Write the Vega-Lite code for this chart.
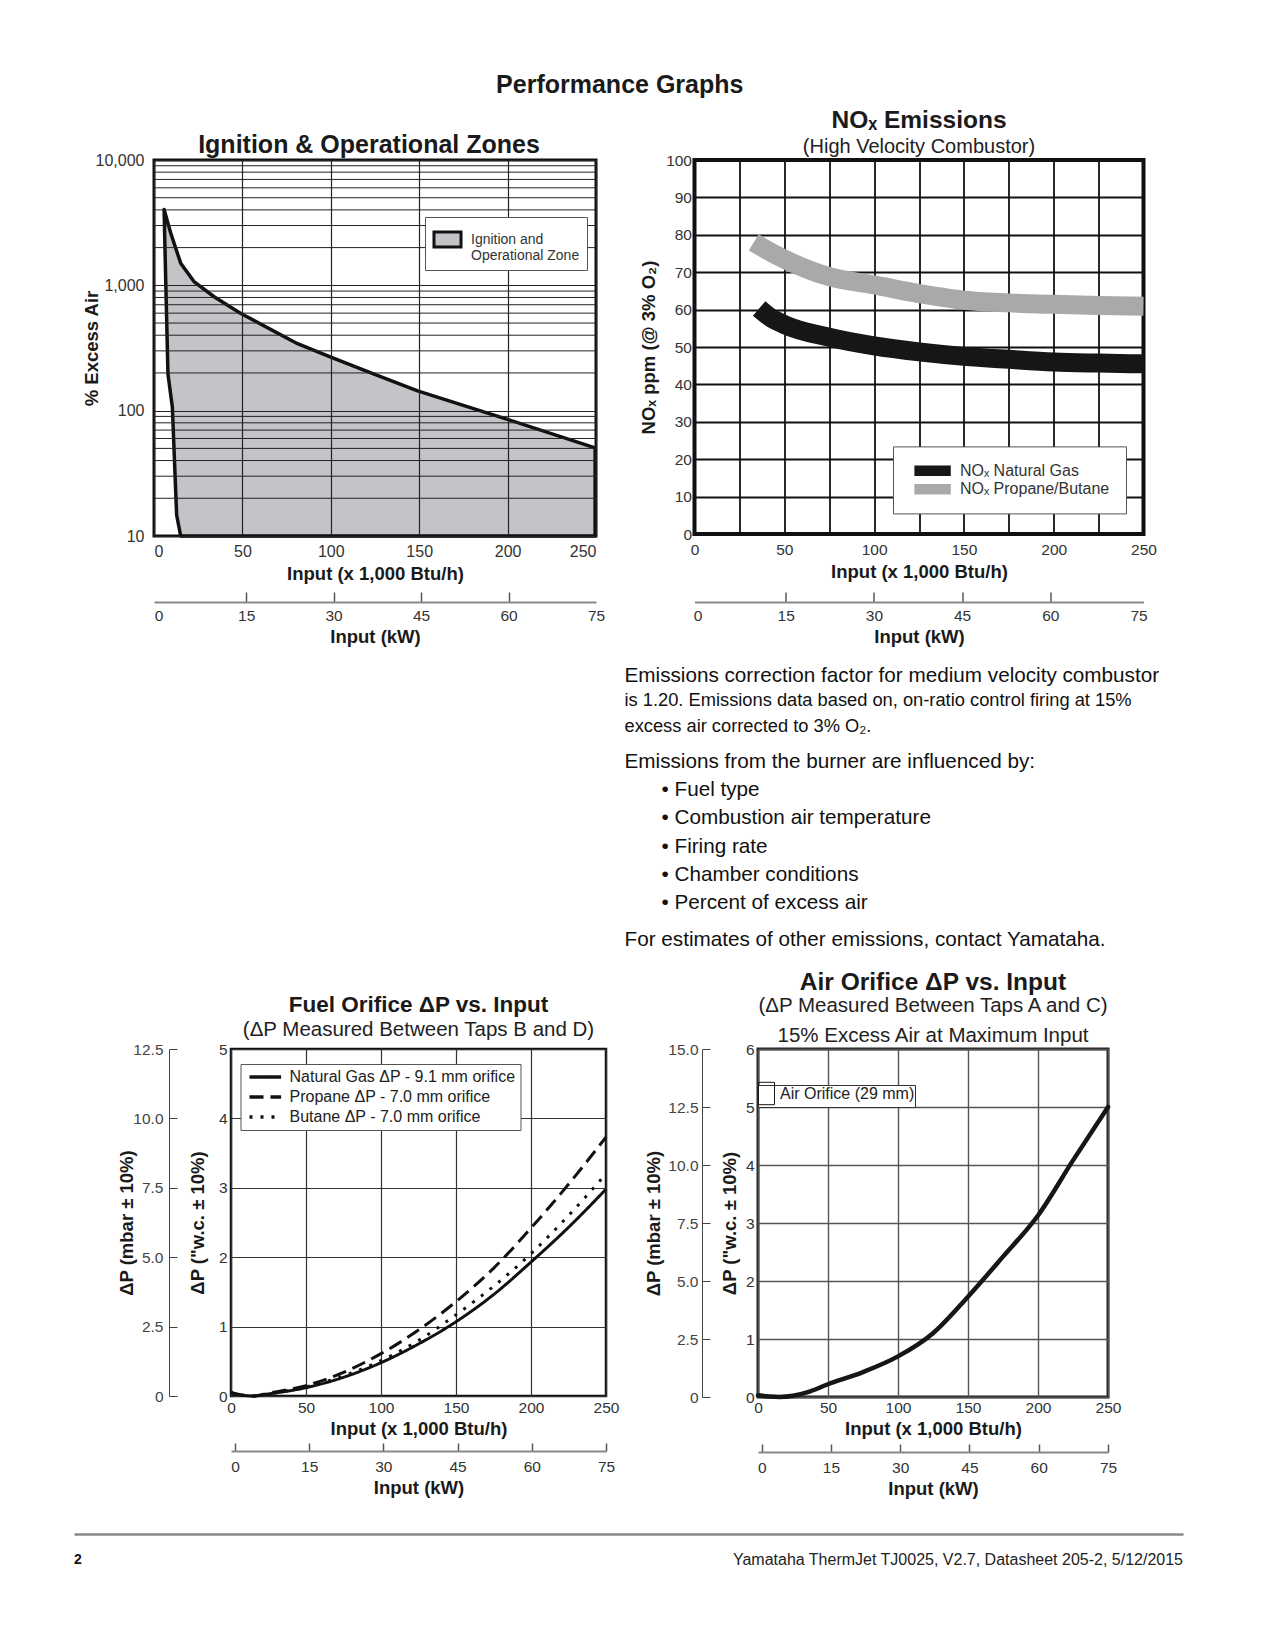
{
  "$schema": "https://vega.github.io/schema/vega-lite/v6.json",
  "background": "white",
  "padding": {"left": 10, "top": 72, "right": 10, "bottom": 10},
  "config": {
    "font": "Liberation Sans",
    "view": {"stroke": null},
    "axis": {"labelFont": "Liberation Sans", "labelFontSize": 15.5, "labelColor": "#333", "titleFont": "Liberation Sans", "titleFontSize": 18.5, "titleFontWeight": "bold", "titleColor": "#1a1a1a", "labelFlush": false, "labelOverlap": false},
    "legend": {"labelFont": "Liberation Sans"},
    "title": {"font": "Liberation Sans", "color": "#1a1a1a", "subtitleFont": "Liberation Sans", "subtitleColor": "#222"}
  },
  "title": {"text": "Performance Graphs", "fontSize": 25, "fontWeight": "bold", "anchor": "middle", "offset": 8.5, "dx": 23},
  "spacing": 0,
  "resolve": {"scale": {"fill": "independent", "stroke": "independent", "strokeDash": "independent", "size": "independent"}, "legend": {"fill": "independent", "stroke": "independent", "strokeDash": "independent", "size": "independent"}},
  "vconcat": [
    {
      "spacing": 0,
      "resolve": {"scale": {"fill": "independent", "stroke": "independent", "strokeDash": "independent", "size": "independent"}, "legend": {"fill": "independent", "stroke": "independent", "strokeDash": "independent", "size": "independent"}},
      "hconcat": [
        {"width": 69.5, "height": 500, "data": {"values": []}, "mark": {"type": "point", "opacity": 0}},
        {
          "spacing": 29.5,
          "resolve": {"scale": {"fill": "independent", "stroke": "independent", "strokeDash": "independent", "size": "independent"}, "legend": {"fill": "independent", "stroke": "independent", "strokeDash": "independent", "size": "independent"}},
          "hconcat": [
            {
              "width": 442, "height": 376,
              "view": {"stroke": "#111", "strokeWidth": 3},
              "title": {"text": "Ignition & Operational Zones", "fontSize": 25, "fontWeight": "bold", "offset": -5.5, "dx": -6},
              "resolve": {"scale": {"x": "independent"}},
              "layer": [
                {
                  "data": {"values": [
                    {"i": 1, "input": 5.7, "air": 4036, "zone": "Ignition and Operational Zone"},
                    {"i": 2, "input": 9.4, "air": 2625, "zone": "Ignition and Operational Zone"},
                    {"i": 3, "input": 15.1, "air": 1503, "zone": "Ignition and Operational Zone"},
                    {"i": 4, "input": 22.6, "air": 1072, "zone": "Ignition and Operational Zone"},
                    {"i": 5, "input": 34, "air": 811, "zone": "Ignition and Operational Zone"},
                    {"i": 6, "input": 49.1, "air": 596, "zone": "Ignition and Operational Zone"},
                    {"i": 7, "input": 81.2, "air": 342, "zone": "Ignition and Operational Zone"},
                    {"i": 8, "input": 100, "air": 267, "zone": "Ignition and Operational Zone"},
                    {"i": 9, "input": 124.5, "air": 196, "zone": "Ignition and Operational Zone"},
                    {"i": 10, "input": 149.1, "air": 144, "zone": "Ignition and Operational Zone"},
                    {"i": 11, "input": 198.1, "air": 86.9, "zone": "Ignition and Operational Zone"},
                    {"i": 12, "input": 249.5, "air": 50.5, "zone": "Ignition and Operational Zone"},
                    {"i": 13, "input": 249.5, "air": 10, "zone": "Ignition and Operational Zone"},
                    {"i": 14, "input": 15.1, "air": 10, "zone": "Ignition and Operational Zone"},
                    {"i": 15, "input": 12.8, "air": 14.7, "zone": "Ignition and Operational Zone"},
                    {"i": 16, "input": 10.4, "air": 106, "zone": "Ignition and Operational Zone"},
                    {"i": 17, "input": 7.9, "air": 196, "zone": "Ignition and Operational Zone"},
                    {"i": 18, "input": 6.7, "air": 1000, "zone": "Ignition and Operational Zone"}
                  ]},
                  "mark": {"type": "line", "interpolate": "linear-closed", "stroke": "#111", "strokeWidth": 3.5, "strokeJoin": "round"},
                  "encoding": {
                    "x": {"field": "input", "type": "quantitative", "scale": {"domain": [0, 250]},
                      "axis": {"values": [0, 50, 100, 150, 200, 250], "grid": true, "gridColor": "#222", "gridWidth": 1.2, "domain": false, "ticks": false, "labelFlush": true, "labelPadding": 7, "labelFontSize": 16, "title": "Input (x 1,000 Btu/h)", "titlePadding": 5, "zindex": 1}},
                    "y": {"field": "air", "type": "quantitative", "scale": {"type": "log", "domain": [10, 10000]},
                      "axis": {"values": [10, 100, 1000, 10000], "format": ",", "grid": true, "gridColor": "#222", "gridWidth": 1.2, "domain": false, "ticks": false, "labelPadding": 10, "labelFontSize": 16, "title": "% Excess Air", "titlePadding": -6, "zindex": 1}},
                    "order": {"field": "i"},
                    "fill": {"field": "zone", "type": "nominal", "scale": {"range": ["#c3c4c8"]},
                      "legend": {"orient": "none", "legendX": 271, "legendY": 57, "title": null, "strokeColor": "#555", "fillColor": "white", "padding": 7, "symbolType": "M-1,-0.55H1V0.55H-1Z", "symbolSize": 730, "symbolStrokeColor": "#111", "symbolStrokeWidth": 3, "labelFontSize": 14, "labelColor": "#333", "labelExpr": "['Ignition and', 'Operational Zone']", "labelOffset": 8, "labelLimit": 0, "zindex": 2}}
                  }
                },
                {
                  "data": {"values": [
                    {"air": 20}, {"air": 30}, {"air": 40}, {"air": 50}, {"air": 60}, {"air": 70}, {"air": 80}, {"air": 90},
                    {"air": 200}, {"air": 300}, {"air": 400}, {"air": 500}, {"air": 600}, {"air": 700}, {"air": 800}, {"air": 900},
                    {"air": 2000}, {"air": 3000}, {"air": 4000}, {"air": 5000}, {"air": 6000}, {"air": 7000}, {"air": 8000}, {"air": 9000}
                  ]},
                  "mark": {"type": "rule", "stroke": "#222", "strokeWidth": 1},
                  "encoding": {"y": {"field": "air", "type": "quantitative", "scale": {"type": "log", "domain": [10, 10000]}}}
                },
                {
                  "data": {"values": [{"kw": 0}, {"kw": 75}]},
                  "mark": {"type": "point", "opacity": 0},
                  "encoding": {"x": {"field": "kw", "type": "quantitative", "scale": {"domain": [-0.8, 75]},
                    "axis": {"orient": "bottom", "offset": 66, "values": [0, 15, 30, 45, 60, 75], "tickSize": -10, "tickWidth": 1.5, "tickColor": {"condition": {"test": "datum.value == 0 || datum.value == 75", "value": "transparent"}, "value": "#555"}, "domainColor": "#888", "domainWidth": 1.8, "labelPadding": 16, "title": "Input (kW)", "titlePadding": 4, "grid": false}}}
                }
              ]
            },
            {
              "width": 449, "height": 374,
              "view": {"stroke": "#111", "strokeWidth": 4},
              "title": {"text": "NOₓ Emissions", "subtitle": "(High Velocity Combustor)", "fontSize": 24.5, "fontWeight": "bold", "subtitleFontSize": 20, "subtitlePadding": 3, "offset": -4.5},
              "resolve": {"scale": {"x": "independent"}},
              "layer": [
                {
                  "data": {"values": [
                    {"fuel": "NOₓ Propane/Butane", "input": 33, "nox": 78},
                    {"fuel": "NOₓ Propane/Butane", "input": 40, "nox": 76},
                    {"fuel": "NOₓ Propane/Butane", "input": 50, "nox": 73.5},
                    {"fuel": "NOₓ Propane/Butane", "input": 75, "nox": 68.8},
                    {"fuel": "NOₓ Propane/Butane", "input": 100, "nox": 66.6},
                    {"fuel": "NOₓ Propane/Butane", "input": 125, "nox": 64.3},
                    {"fuel": "NOₓ Propane/Butane", "input": 150, "nox": 62.5},
                    {"fuel": "NOₓ Propane/Butane", "input": 175, "nox": 61.8},
                    {"fuel": "NOₓ Propane/Butane", "input": 200, "nox": 61.4},
                    {"fuel": "NOₓ Propane/Butane", "input": 225, "nox": 61.1},
                    {"fuel": "NOₓ Propane/Butane", "input": 250, "nox": 60.9},
                    {"fuel": "NOₓ Natural Gas", "input": 36, "nox": 60.3},
                    {"fuel": "NOₓ Natural Gas", "input": 42, "nox": 58},
                    {"fuel": "NOₓ Natural Gas", "input": 50, "nox": 56},
                    {"fuel": "NOₓ Natural Gas", "input": 75, "nox": 52.6},
                    {"fuel": "NOₓ Natural Gas", "input": 100, "nox": 50.3},
                    {"fuel": "NOₓ Natural Gas", "input": 125, "nox": 48.7},
                    {"fuel": "NOₓ Natural Gas", "input": 150, "nox": 47.5},
                    {"fuel": "NOₓ Natural Gas", "input": 175, "nox": 46.7},
                    {"fuel": "NOₓ Natural Gas", "input": 200, "nox": 46},
                    {"fuel": "NOₓ Natural Gas", "input": 225, "nox": 45.7},
                    {"fuel": "NOₓ Natural Gas", "input": 250, "nox": 45.5}
                  ]},
                  "mark": {"type": "line", "strokeWidth": 19, "strokeCap": "butt", "interpolate": "monotone"},
                  "encoding": {
                    "x": {"field": "input", "type": "quantitative", "scale": {"domain": [0, 250]},
                      "axis": {"values": [0, 25, 50, 75, 100, 125, 150, 175, 200, 225, 250], "labelExpr": "datum.value % 50 === 0 ? datum.label : ''", "grid": true, "gridColor": "#111", "gridWidth": 1.8, "domain": false, "ticks": false, "labelPadding": 8, "title": "Input (x 1,000 Btu/h)", "titlePadding": 5}},
                    "y": {"field": "nox", "type": "quantitative", "scale": {"domain": [0, 100]},
                      "axis": {"values": [0, 10, 20, 30, 40, 50, 60, 70, 80, 90, 100], "grid": true, "gridColor": "#111", "gridWidth": 1.8, "domain": false, "ticks": false, "labelPadding": 3, "title": "NOₓ ppm (@ 3% O₂)", "titlePadding": 7.5}},
                    "stroke": {"field": "fuel", "type": "nominal", "scale": {"domain": ["NOₓ Natural Gas", "NOₓ Propane/Butane"], "range": ["#161616", "#a8a9ab"]},
                      "legend": {"orient": "none", "legendX": 198.5, "legendY": 286.4, "title": null, "strokeColor": "#555", "fillColor": "white", "padding": 15.9, "symbolType": "M-0.4,-0.6H4.45M-0.4,-0.4H4.45M-0.4,-0.2H4.45M-0.4,0H4.45M-0.4,0.2H4.45M-0.4,0.4H4.45M-0.4,0.6H4.45", "symbolSize": 225, "symbolStrokeWidth": 1.6, "symbolFillColor": "transparent", "labelFontSize": 16, "labelColor": "#333", "labelOffset": 34, "rowPadding": 1.5, "zindex": 2}}
                  }
                },
                {
                  "data": {"values": [{"kw": 0}, {"kw": 75}]},
                  "mark": {"type": "point", "opacity": 0},
                  "encoding": {"x": {"field": "kw", "type": "quantitative", "scale": {"domain": [-0.51, 75.85]},
                    "axis": {"orient": "bottom", "offset": 68, "values": [0, 15, 30, 45, 60, 75], "tickSize": -10, "tickWidth": 1.5, "tickColor": {"condition": {"test": "datum.value == 0 || datum.value == 75", "value": "transparent"}, "value": "#555"}, "domainColor": "#888", "domainWidth": 1.8, "labelPadding": 16, "title": "Input (kW)", "titlePadding": 4, "grid": false}}}
                }
              ]
            }
          ]
        }
      ]
    },
    {
      "spacing": 0,
      "resolve": {"scale": {"fill": "independent", "stroke": "independent", "strokeDash": "independent", "size": "independent"}, "legend": {"fill": "independent", "stroke": "independent", "strokeDash": "independent", "size": "independent"}},
      "hconcat": [
        {"width": 614, "height": 308, "data": {"values": []}, "mark": {"type": "point", "opacity": 0}},
        {
          "spacing": 4.8,
          "vconcat": [
            {
              "width": 1, "height": 82.6,
              "data": {"values": [
                {"line": 1, "kind": "lead", "text": "Emissions correction factor for medium velocity combustor"},
                {"line": 2, "kind": "detail", "text": "is 1.20. Emissions data based on, on-ratio control firing at 15%"},
                {"line": 3, "kind": "detail", "text": "excess air corrected to 3% O₂."}
              ]},
              "encoding": {
                "y": {"field": "line", "type": "ordinal", "scale": {"type": "point", "padding": 0.62, "domain": [1, 2, 3]}, "axis": null},
                "text": {"field": "text"}
              },
              "layer": [
                {"transform": [{"filter": "datum.kind === 'lead'"}], "mark": {"type": "text", "align": "left", "baseline": "middle", "color": "#111", "fontSize": 20.7}},
                {"transform": [{"filter": "datum.kind === 'detail'"}], "mark": {"type": "text", "align": "left", "baseline": "middle", "color": "#111", "fontSize": 18.3}}
              ]
            },
            {
              "width": 1, "height": 169.2,
              "data": {"values": [
                {"line": 4, "kind": "intro", "text": "Emissions from the burner are influenced by:"},
                {"line": 5, "kind": "bullet", "text": "• Fuel type"},
                {"line": 6, "kind": "bullet", "text": "• Combustion air temperature"},
                {"line": 7, "kind": "bullet", "text": "• Firing rate"},
                {"line": 8, "kind": "bullet", "text": "• Chamber conditions"},
                {"line": 9, "kind": "bullet", "text": "• Percent of excess air"}
              ]},
              "encoding": {
                "y": {"field": "line", "type": "ordinal", "scale": {"type": "point", "padding": 0.5, "domain": [4, 5, 6, 7, 8, 9]}, "axis": null},
                "text": {"field": "text"}
              },
              "layer": [
                {"transform": [{"filter": "datum.kind === 'intro'"}], "mark": {"type": "text", "align": "left", "baseline": "middle", "color": "#111", "fontSize": 20.7}},
                {"transform": [{"filter": "datum.kind === 'bullet'"}], "mark": {"type": "text", "align": "left", "baseline": "middle", "color": "#111", "fontSize": 20.7, "dx": 37}}
              ]
            },
            {
              "width": 1, "height": 34.2,
              "data": {"values": [
                {"line": 10, "text": "For estimates of other emissions, contact Yamataha."}
              ]},
              "mark": {"type": "text", "align": "left", "baseline": "middle", "color": "#111", "fontSize": 20.7},
              "encoding": {
                "y": {"field": "line", "type": "ordinal", "scale": {"type": "point", "padding": 0.5}, "axis": null},
                "text": {"field": "text"}
              }
            }
          ]
        }
      ]
    },
    {
      "spacing": 0,
      "resolve": {"scale": {"fill": "independent", "stroke": "independent", "strokeDash": "independent", "size": "independent"}, "legend": {"fill": "independent", "stroke": "independent", "strokeDash": "independent", "size": "independent"}},
      "hconcat": [
        {"width": 106, "height": 484.5, "data": {"values": []}, "mark": {"type": "point", "opacity": 0}},
        {
          "spacing": 22,
          "resolve": {"scale": {"fill": "independent", "stroke": "independent", "strokeDash": "independent", "size": "independent"}, "legend": {"fill": "independent", "stroke": "independent", "strokeDash": "independent", "size": "independent"}},
          "hconcat": [
            {
              "width": 375, "height": 347,
              "view": {"stroke": "#111", "strokeWidth": 2.5},
              "title": {"text": "Fuel Orifice ΔP vs. Input", "subtitle": "(ΔP Measured Between Taps B and D)", "fontSize": 22.5, "fontWeight": "bold", "subtitleFontSize": 20.5, "subtitlePadding": 3, "offset": 2},
              "resolve": {"scale": {"x": "independent", "y": "independent"}},
              "layer": [
                {
                  "data": {"values": [
                    {"fuel": "Natural Gas ΔP - 9.1 mm orifice", "input": 0, "dp": 0.05},
                    {"fuel": "Natural Gas ΔP - 9.1 mm orifice", "input": 8, "dp": 0.01},
                    {"fuel": "Natural Gas ΔP - 9.1 mm orifice", "input": 15, "dp": 0},
                    {"fuel": "Natural Gas ΔP - 9.1 mm orifice", "input": 25, "dp": 0.03},
                    {"fuel": "Natural Gas ΔP - 9.1 mm orifice", "input": 50, "dp": 0.12},
                    {"fuel": "Natural Gas ΔP - 9.1 mm orifice", "input": 75, "dp": 0.27},
                    {"fuel": "Natural Gas ΔP - 9.1 mm orifice", "input": 100, "dp": 0.48},
                    {"fuel": "Natural Gas ΔP - 9.1 mm orifice", "input": 125, "dp": 0.75},
                    {"fuel": "Natural Gas ΔP - 9.1 mm orifice", "input": 150, "dp": 1.07},
                    {"fuel": "Natural Gas ΔP - 9.1 mm orifice", "input": 175, "dp": 1.46},
                    {"fuel": "Natural Gas ΔP - 9.1 mm orifice", "input": 200, "dp": 1.93},
                    {"fuel": "Natural Gas ΔP - 9.1 mm orifice", "input": 225, "dp": 2.43},
                    {"fuel": "Natural Gas ΔP - 9.1 mm orifice", "input": 250, "dp": 2.98},
                    {"fuel": "Propane ΔP - 7.0 mm orifice", "input": 0, "dp": 0.05},
                    {"fuel": "Propane ΔP - 7.0 mm orifice", "input": 8, "dp": 0.01},
                    {"fuel": "Propane ΔP - 7.0 mm orifice", "input": 15, "dp": 0},
                    {"fuel": "Propane ΔP - 7.0 mm orifice", "input": 25, "dp": 0.04},
                    {"fuel": "Propane ΔP - 7.0 mm orifice", "input": 50, "dp": 0.15},
                    {"fuel": "Propane ΔP - 7.0 mm orifice", "input": 75, "dp": 0.34},
                    {"fuel": "Propane ΔP - 7.0 mm orifice", "input": 100, "dp": 0.61},
                    {"fuel": "Propane ΔP - 7.0 mm orifice", "input": 125, "dp": 0.95},
                    {"fuel": "Propane ΔP - 7.0 mm orifice", "input": 150, "dp": 1.36},
                    {"fuel": "Propane ΔP - 7.0 mm orifice", "input": 175, "dp": 1.84},
                    {"fuel": "Propane ΔP - 7.0 mm orifice", "input": 200, "dp": 2.42},
                    {"fuel": "Propane ΔP - 7.0 mm orifice", "input": 225, "dp": 3.05},
                    {"fuel": "Propane ΔP - 7.0 mm orifice", "input": 250, "dp": 3.73},
                    {"fuel": "Butane ΔP - 7.0 mm orifice", "input": 0, "dp": 0.05},
                    {"fuel": "Butane ΔP - 7.0 mm orifice", "input": 8, "dp": 0.01},
                    {"fuel": "Butane ΔP - 7.0 mm orifice", "input": 15, "dp": 0},
                    {"fuel": "Butane ΔP - 7.0 mm orifice", "input": 25, "dp": 0.03},
                    {"fuel": "Butane ΔP - 7.0 mm orifice", "input": 50, "dp": 0.13},
                    {"fuel": "Butane ΔP - 7.0 mm orifice", "input": 75, "dp": 0.29},
                    {"fuel": "Butane ΔP - 7.0 mm orifice", "input": 100, "dp": 0.51},
                    {"fuel": "Butane ΔP - 7.0 mm orifice", "input": 125, "dp": 0.8},
                    {"fuel": "Butane ΔP - 7.0 mm orifice", "input": 150, "dp": 1.17},
                    {"fuel": "Butane ΔP - 7.0 mm orifice", "input": 175, "dp": 1.58},
                    {"fuel": "Butane ΔP - 7.0 mm orifice", "input": 200, "dp": 2.05},
                    {"fuel": "Butane ΔP - 7.0 mm orifice", "input": 225, "dp": 2.6},
                    {"fuel": "Butane ΔP - 7.0 mm orifice", "input": 250, "dp": 3.2}
                  ]},
                  "mark": {"type": "line", "strokeWidth": 3, "stroke": "#111", "strokeCap": "butt", "interpolate": "monotone"},
                  "encoding": {
                    "x": {"field": "input", "type": "quantitative", "scale": {"domain": [0, 250]},
                      "axis": {"values": [0, 50, 100, 150, 200, 250], "grid": true, "gridColor": "#333", "gridWidth": 1.2, "domain": false, "ticks": false, "labelPadding": 4, "title": "Input (x 1,000 Btu/h)", "titlePadding": 4}},
                    "y": {"field": "dp", "type": "quantitative", "scale": {"domain": [0, 5]},
                      "axis": {"orient": "left", "values": [0, 1, 2, 3, 4, 5], "grid": true, "gridColor": "#333", "gridWidth": 1.2, "domain": false, "ticks": false, "labelPadding": 4, "title": "ΔP (\"w.c. ± 10%)", "titlePadding": 11}},
                    "strokeDash": {"field": "fuel", "type": "nominal", "scale": {"domain": ["Natural Gas ΔP - 9.1 mm orifice", "Propane ΔP - 7.0 mm orifice", "Butane ΔP - 7.0 mm orifice"], "range": [[1, 0], [14, 7], [3, 8]]},
                      "legend": {"orient": "none", "legendX": 9.5, "legendY": 15, "title": null, "strokeColor": "#555", "fillColor": "white", "padding": 5, "symbolType": "M-0.667,0H4.6", "symbolSize": 144, "symbolStrokeWidth": 3.5, "symbolStrokeColor": "#111", "symbolFillColor": "transparent", "labelFontSize": 16, "labelColor": "#222", "labelOffset": 28, "rowPadding": 4, "labelLimit": 0, "zindex": 2}}
                  }
                },
                {
                  "data": {"values": [{"mbar": 0}, {"mbar": 12.5}]},
                  "mark": {"type": "point", "opacity": 0},
                  "encoding": {"y": {"field": "mbar", "type": "quantitative", "scale": {"domain": [0, 12.5]},
                    "axis": {"orient": "left", "offset": 62, "values": [0, 2.5, 5, 7.5, 10, 12.5], "labelExpr": "datum.value === 0 ? '0' : format(datum.value, '.1f')", "tickSize": -8, "tickColor": "#444", "domainColor": "#444", "labelPadding": 14, "labelColor": "#444", "title": "ΔP (mbar ± 10%)", "titlePadding": -4, "grid": false}}}
                },
                {
                  "data": {"values": [{"kw": 0}, {"kw": 75}]},
                  "mark": {"type": "point", "opacity": 0},
                  "encoding": {"x": {"field": "kw", "type": "quantitative", "scale": {"domain": [-0.8, 75]},
                    "axis": {"orient": "bottom", "offset": 55, "values": [0, 15, 30, 45, 60, 75], "tickSize": -8, "tickWidth": 1.5, "tickColor": "#555", "domainColor": "#888", "domainWidth": 1.8, "labelPadding": 16, "title": "Input (kW)", "titlePadding": 4, "grid": false}}}
                }
              ]
            },
            {
              "width": 350, "height": 348,
              "view": {"stroke": "#222", "strokeWidth": 3},
              "title": {"text": "Air Orifice ΔP vs. Input", "subtitle": ["(ΔP Measured Between Taps A and C)", "15% Excess Air at Maximum Input"], "fontSize": 24.5, "fontWeight": "bold", "subtitleFontSize": 20.5, "subtitleLineHeight": 30, "subtitlePadding": 0, "offset": -5},
              "resolve": {"scale": {"x": "independent", "y": "independent"}},
              "layer": [
                {
                  "data": {"values": [
                    {"orifice": "Air Orifice (29 mm)", "input": 0, "dp": 0.03},
                    {"orifice": "Air Orifice (29 mm)", "input": 8, "dp": 0.01},
                    {"orifice": "Air Orifice (29 mm)", "input": 15, "dp": 0},
                    {"orifice": "Air Orifice (29 mm)", "input": 25, "dp": 0.02},
                    {"orifice": "Air Orifice (29 mm)", "input": 35, "dp": 0.08},
                    {"orifice": "Air Orifice (29 mm)", "input": 50, "dp": 0.22},
                    {"orifice": "Air Orifice (29 mm)", "input": 75, "dp": 0.43},
                    {"orifice": "Air Orifice (29 mm)", "input": 100, "dp": 0.7},
                    {"orifice": "Air Orifice (29 mm)", "input": 125, "dp": 1.1},
                    {"orifice": "Air Orifice (29 mm)", "input": 150, "dp": 1.73},
                    {"orifice": "Air Orifice (29 mm)", "input": 175, "dp": 2.42},
                    {"orifice": "Air Orifice (29 mm)", "input": 200, "dp": 3.13},
                    {"orifice": "Air Orifice (29 mm)", "input": 225, "dp": 4.08},
                    {"orifice": "Air Orifice (29 mm)", "input": 250, "dp": 5.0}
                  ]},
                  "mark": {"type": "line", "strokeWidth": 4.5, "strokeCap": "round", "interpolate": "monotone"},
                  "encoding": {
                    "x": {"field": "input", "type": "quantitative", "scale": {"domain": [0, 250]},
                      "axis": {"values": [0, 50, 100, 150, 200, 250], "grid": true, "gridColor": "#555", "gridWidth": 1.4, "domain": false, "ticks": false, "labelPadding": 3, "title": "Input (x 1,000 Btu/h)", "titlePadding": 4}},
                    "y": {"field": "dp", "type": "quantitative", "scale": {"domain": [0, 6]},
                      "axis": {"orient": "left", "values": [0, 1, 2, 3, 4, 5, 6], "grid": true, "gridColor": "#555", "gridWidth": 1.4, "domain": false, "ticks": false, "labelPadding": 4, "title": "ΔP (\"w.c. ± 10%)", "titlePadding": 6}},
                    "stroke": {"field": "orifice", "type": "nominal", "scale": {"range": ["#161616"]},
                      "legend": {"orient": "none", "legendX": 0, "legendY": 36, "title": null, "strokeColor": "#333", "fillColor": "white", "padding": 0, "symbolType": "M-1,-1.4H1V1.4H-1Z", "symbolSize": 256, "symbolStrokeWidth": 1, "symbolStrokeColor": "#333", "symbolFillColor": "transparent", "labelFontSize": 16, "labelColor": "#222", "labelOffset": 5, "labelLimit": 0, "labelExpr": "datum.label + '\u00a0\u00a0\u00a0\u00a0'", "zindex": 2}}
                  }
                },
                {
                  "data": {"values": [{"mbar": 0}, {"mbar": 15}]},
                  "mark": {"type": "point", "opacity": 0},
                  "encoding": {"y": {"field": "mbar", "type": "quantitative", "scale": {"domain": [0, 15]},
                    "axis": {"orient": "left", "offset": 56, "values": [0, 2.5, 5, 7.5, 10, 12.5, 15], "labelExpr": "datum.value === 0 ? '0' : format(datum.value, '.1f')", "tickSize": -8, "tickColor": "#444", "domainColor": "#444", "labelPadding": 12, "labelColor": "#444", "title": "ΔP (mbar ± 10%)", "titlePadding": 4, "grid": false}}}
                },
                {
                  "data": {"values": [{"kw": 0}, {"kw": 75}]},
                  "mark": {"type": "point", "opacity": 0},
                  "encoding": {"x": {"field": "kw", "type": "quantitative", "scale": {"domain": [-0.8, 75]},
                    "axis": {"orient": "bottom", "offset": 55, "values": [0, 15, 30, 45, 60, 75], "tickSize": -8, "tickWidth": 1.5, "tickColor": "#555", "domainColor": "#888", "domainWidth": 1.8, "labelPadding": 16, "title": "Input (kW)", "titlePadding": 4, "grid": false}}}
                }
              ]
            }
          ]
        }
      ]
    },
    {
      "spacing": 0,
      "resolve": {"scale": {"fill": "independent", "stroke": "independent", "strokeDash": "independent", "size": "independent"}, "legend": {"fill": "independent", "stroke": "independent", "strokeDash": "independent", "size": "independent"}},
      "hconcat": [
        {"width": 64, "height": 1, "data": {"values": []}, "mark": {"type": "point", "opacity": 0}},
        {
          "width": 1109, "height": 52,
          "data": {"values": [
            {"part": "page", "text": "2"},
            {"part": "doc", "text": "Yamataha ThermJet TJ0025, V2.7, Datasheet 205-2, 5/12/2015"}
          ]},
          "encoding": {
            "x": {"field": "part", "type": "nominal", "scale": {"type": "point", "domain": ["page", "doc"], "padding": 0},
              "axis": {"orient": "top", "labels": false, "ticks": false, "title": null, "domainColor": "#888", "domainWidth": 2.5, "grid": false}},
            "text": {"field": "text"}
          },
          "layer": [
            {"transform": [{"filter": "datum.part === 'page'"}], "mark": {"type": "text", "align": "left", "fontSize": 14, "fontWeight": "bold", "color": "#111"}},
            {"transform": [{"filter": "datum.part === 'doc'"}], "mark": {"type": "text", "align": "right", "fontSize": 16, "color": "#222"}}
          ]
        }
      ]
    }
  ]
}
